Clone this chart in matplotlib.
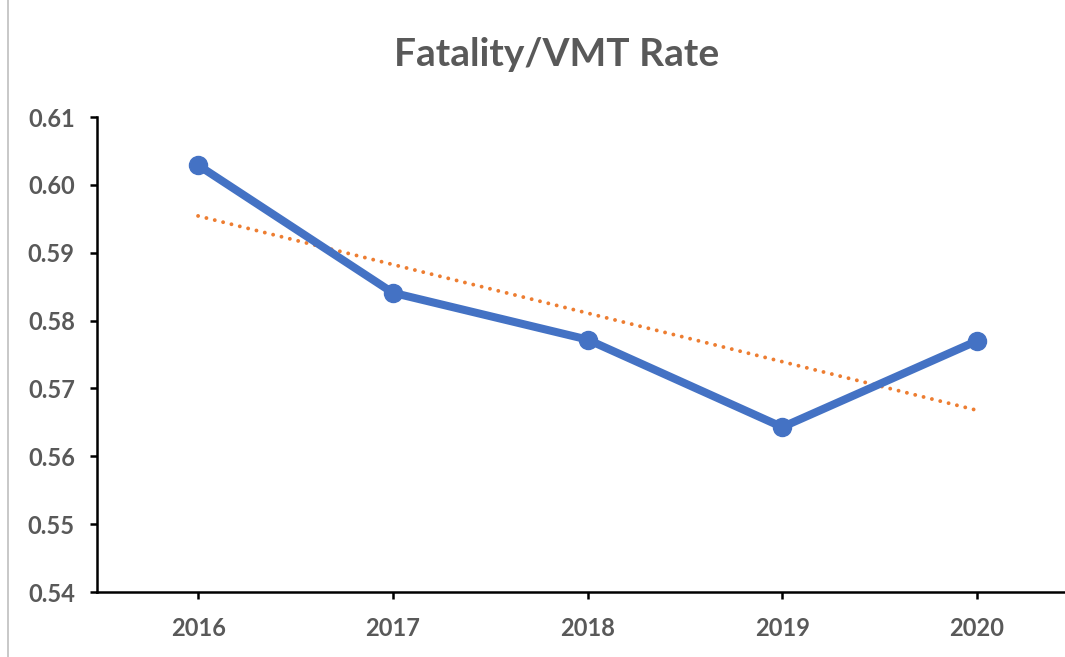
import numpy as np
import matplotlib.pyplot as plt
from matplotlib.lines import Line2D

# Fatality per VMT rate by year
years = [2016, 2017, 2018, 2019, 2020]
rate = [0.6029, 0.5841, 0.5772, 0.5643, 0.5770]
y_ticks = [0.54, 0.55, 0.56, 0.57, 0.58, 0.59, 0.60, 0.61]

plt.rcParams['font.family'] = ['Lato', 'DejaVu Sans']
text_color = '#595959'

fig = plt.figure(figsize=(10.65, 6.57), dpi=100)
ax = fig.add_axes([97/1065, 1 - 592/657, 1 - 97/1065, (592 - 117)/657])

ax.plot(years, rate, color='#4472C4', linewidth=5.8, marker='o', markersize=13,
        solid_capstyle='round', zorder=3)

# linear trendline
coef = np.polyfit(years, rate, 1)
trend_x = np.array([years[0], years[-1]])
ax.plot(trend_x, np.polyval(coef, trend_x), color='#ED7D31', linewidth=2.8,
        linestyle=(0, (0.01, 2.2)), dash_capstyle='round', zorder=2)

ax.set_xlim(2015.481, 2020.452)
ax.set_ylim(0.54, 0.61)
ax.set_xticks(years)
ax.set_xticklabels([str(y) for y in years])
ax.set_yticks(y_ticks)
ax.set_yticklabels([f'{v:.2f}' for v in y_ticks])

for side in ['top', 'right']:
    ax.spines[side].set_visible(False)
for side in ['left', 'bottom']:
    ax.spines[side].set_linewidth(1.8)
    ax.spines[side].set_color('black')

ax.tick_params(axis='both', direction='out', length=5, width=1.8, color='black',
               labelsize=17, labelcolor=text_color)
ax.tick_params(axis='x', pad=13)
ax.tick_params(axis='y', pad=11)
for lbl in ax.get_xticklabels() + ax.get_yticklabels():
    lbl.set_fontweight('bold')

fig.text(557/1065, 1 - 55/657, 'Fatality/VMT Rate', ha='center', va='center',
         fontsize=28, fontweight='bold', color=text_color)

# chart frame edge on the left
fig.add_artist(Line2D([8/1065, 8/1065], [0, 1], color='#BFBFBF', linewidth=1.2))

fig.savefig('out.png', dpi=100)
